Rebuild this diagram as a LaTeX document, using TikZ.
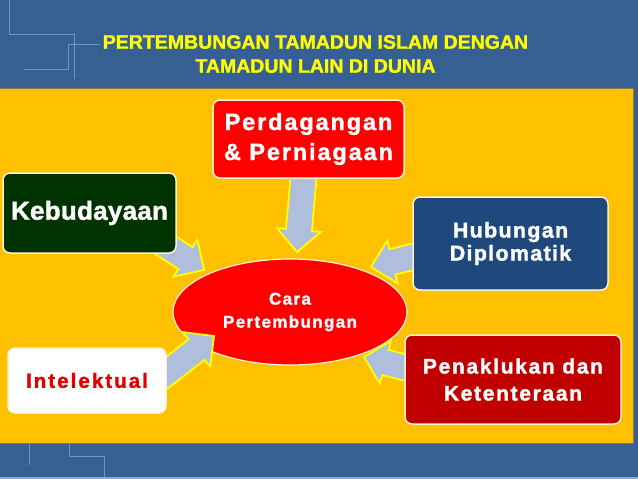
\documentclass[tikz,border=0pt]{standalone}
\usepackage{fontspec}
\setmainfont{Liberation Sans}
\usetikzlibrary{calc,shapes.geometric}
\definecolor{bgblue}{HTML}{376092}
\definecolor{band}{HTML}{FFC000}
\definecolor{bandedge}{HTML}{8C7A40}
\definecolor{decor}{HTML}{6E96CC}
\definecolor{ttl}{HTML}{FFFF00}
\definecolor{arrfill}{HTML}{AEBEDC}
\definecolor{arredge}{HTML}{FFFF00}
\definecolor{redA}{HTML}{FF0000}
\definecolor{greenA}{HTML}{003300}
\definecolor{blueA}{HTML}{1F497D}
\definecolor{redB}{HTML}{C00000}
\definecolor{redT}{HTML}{E00000}
\definecolor{boxedge}{HTML}{FFF2D6}
\tikzset{
  box/.style={draw=boxedge, line width=1.5pt, rounded corners=7pt, align=center, text=white, inner sep=0pt},
  blockarr/.style={fill=arrfill, draw=arredge, line width=1.8pt, line join=miter},
  decorline/.style={draw=decor, line width=0.9pt}
}
\newcommand\blockarrow[2]{%
  \coordinate (hb) at ($(#2)!22pt!(#1)$);
  \filldraw[blockarr] ($(#1)!13pt!90:(#2)$) -- ($(hb)!13pt!90:(#2)$) -- ($(hb)!22pt!90:(#2)$) -- (#2)
    -- ($(hb)!22pt!-90:(#2)$) -- ($(hb)!13pt!-90:(#2)$) -- ($(#1)!13pt!-90:(#2)$) -- cycle;}
\begin{document}
\begin{tikzpicture}[x=1pt,y=-1pt]
\useasboundingbox (0,0) rectangle (638,479);
\fill[bgblue] (0,0) rectangle (638,479);
% decorative lines
\draw[decorline] (9,0) -- (9,34) -- (74,34) -- (74,79);
\draw[decorline] (100,44) -- (68,44) -- (68,69) -- (24,69);
\draw[decorline] (29,443) -- (29,465);
\draw[decorline] (69,443) -- (69,456) -- (104,456) -- (104,479);
\draw[draw=decor!80!white, line width=1.2pt] (0,478) -- (638,478);
% band
\fill[band] (0,88) rectangle (633,443);
\draw[bandedge, line width=1pt] (0,88) -- (633,88) -- (633,443) -- (0,443);
% title
\node[text=ttl, align=center, font=\fontsize{19.5}{24}\selectfont\bfseries\addfontfeatures{FakeBold=1.5}] (title) at (315.5,54)
  {PERTEMBUNGAN TAMADUN ISLAM DENGAN\\TAMADUN LAIN DI DUNIA};
% centre ellipse
\node[ellipse, fill=redA, draw=boxedge, line width=1.2pt, minimum width=234pt, minimum height=106pt,
  text=white, align=center, inner sep=0pt, font=\fontsize{17}{23}\selectfont\bfseries\addfontfeatures{LetterSpace=8,FakeBold=1.5}]
  (cara) at (290,312) {Cara\\Pertembungan};
% arrow coordinates
\coordinate (sTop) at (304,172);   \coordinate (tTop) at (297,252);
\coordinate (sKeb) at (148,234);   \coordinate (tKeb) at (204,270);
\coordinate (sHub) at (425,254);   \coordinate (tHub) at (371,267);
\coordinate (sInt) at (155,382);   \coordinate (tInt) at (214,336);
\coordinate (sPen) at (415,370);   \coordinate (tPen) at (364,357);
\blockarrow{sTop}{tTop}
\blockarrow{sKeb}{tKeb}
\blockarrow{sHub}{tHub}
\blockarrow{sInt}{tInt}
\blockarrow{sPen}{tPen}
% boxes
\node[box, fill=redA, minimum width=191pt, minimum height=78pt,
  font=\fontsize{23.5}{30}\selectfont\bfseries\addfontfeatures{LetterSpace=8,FakeBold=1.5}]
  (perd) at (308.5,139) {Perdagangan\\\& Perniagaan};
\node[box, fill=greenA, minimum width=173pt, minimum height=80pt,
  font=\fontsize{26}{30}\selectfont\bfseries\addfontfeatures{LetterSpace=1,FakeBold=1.5}]
  (keb) at (89.5,213) {Kebudayaan};
\node[box, fill=blueA, minimum width=195pt, minimum height=93pt,
  font=\fontsize{21.5}{23}\selectfont\bfseries\addfontfeatures{LetterSpace=6,FakeBold=1.5}]
  (hub) at (510.5,243.5) {Hubungan\\Diplomatik};
\node[box, fill=redB, minimum width=216pt, minimum height=89pt,
  font=\fontsize{21}{27}\selectfont\bfseries\addfontfeatures{LetterSpace=8,FakeBold=1.5}]
  (pen) at (513,379.5) {Penaklukan dan\\Ketenteraan};
\node[box, fill=white, text=redT, minimum width=158pt, minimum height=65pt,
  font=\fontsize{20.5}{24}\selectfont\bfseries\addfontfeatures{LetterSpace=10,FakeBold=1.5}]
  (int) at (87,380.5) {Intelektual};
\end{tikzpicture}
\end{document}
